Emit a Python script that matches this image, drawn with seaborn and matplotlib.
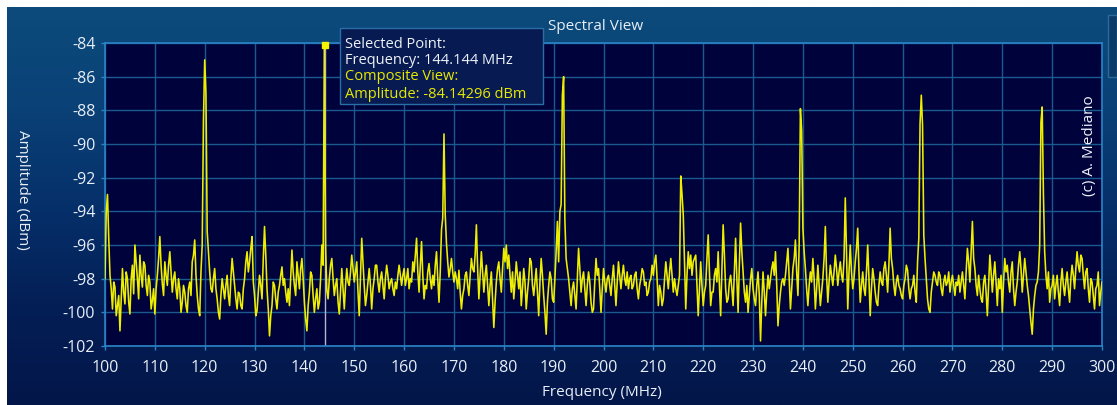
import numpy as np
import pandas as pd
import matplotlib
matplotlib.use("Agg")
import matplotlib.pyplot as plt
from matplotlib.colors import LinearSegmentedColormap
from matplotlib.patches import Rectangle
import seaborn as sns

# ---------------- data (dBm, sampled every 0.25 MHz) ----------------
freq_step_mhz = 0.25
amp_100 = [-98.0, -94.0, -93.0, -95.6, -97.8, -98.6, -99.8, -98.2, -98.5, -100.2,
           -99.6, -99.0, -101.1, -99.3, -97.4, -98.8, -99.5, -97.6, -98.0, -99.4,
           -100.1, -98.0, -97.2, -98.9, -96.0, -97.0, -98.0, -99.2, -96.6, -97.8,
           -98.5, -97.0, -97.2, -98.4, -99.0, -97.8, -98.2, -99.8, -99.3, -98.6]
amp_110 = [-100.1, -98.6, -97.8, -96.8, -95.5, -97.2, -98.3, -99.0, -97.0, -97.8,
           -98.4, -97.2, -96.4, -97.6, -98.8, -98.0, -97.6, -98.6, -99.2, -98.0,
           -98.6, -100.0, -99.4, -98.4, -98.8, -99.6, -100.0, -98.6, -98.2, -99.0,
           -97.0, -96.6, -95.7, -97.8, -99.0, -99.8, -100.2, -97.6, -96.0, -88.6]
amp_120 = [-85.0, -87.0, -95.2, -96.4, -97.6, -98.6, -98.8, -98.0, -97.4, -98.6,
           -99.2, -100.0, -100.4, -99.0, -98.0, -98.6, -99.2, -98.4, -97.8, -99.0,
           -99.6, -98.0, -96.8, -97.6, -98.4, -99.2, -99.8, -98.8, -98.9, -99.6,
           -99.8, -98.6, -98.0, -97.0, -96.4, -97.6, -97.0, -96.2, -95.5, -98.2]
amp_130 = [-99.0, -100.2, -99.9, -98.8, -97.8, -98.4, -99.2, -96.8, -94.9, -96.6,
           -98.6, -99.8, -101.4, -100.2, -99.6, -98.2, -98.4, -99.2, -99.8, -98.8,
           -98.4, -97.8, -97.3, -98.4, -98.0, -98.8, -99.4, -98.6, -99.6, -98.0,
           -96.3, -97.6, -98.4, -99.0, -97.0, -97.8, -98.6, -97.4, -96.8, -98.0]
amp_140 = [-99.4, -100.4, -101.1, -99.6, -98.8, -97.6, -97.8, -99.0, -100.0, -99.2,
           -98.6, -99.8, -99.4, -98.0, -96.0, -97.2, -84.14, -96.2, -98.7, -99.2,
           -98.0, -97.2, -96.8, -98.0, -99.0, -98.4, -98.0, -99.4, -100.1, -98.8,
           -97.4, -98.6, -99.8, -98.4, -97.4, -98.2, -98.4, -97.6, -96.6, -97.4]
amp_150 = [-98.2, -97.6, -97.0, -98.8, -100.2, -97.8, -95.6, -97.0, -98.4, -99.6,
           -99.0, -98.2, -97.4, -98.4, -99.8, -98.6, -98.0, -97.2, -97.2, -98.2,
           -98.8, -98.0, -97.6, -98.4, -99.2, -98.0, -97.2, -97.8, -98.6, -98.2,
           -98.0, -98.6, -99.0, -98.2, -98.6, -97.8, -97.2, -97.8, -98.4, -97.8]
amp_160 = [-97.4, -98.4, -98.0, -97.4, -98.6, -98.0, -98.2, -97.0, -97.6, -96.6,
           -95.6, -97.6, -98.8, -97.2, -95.8, -97.8, -99.2, -98.4, -98.6, -97.6,
           -97.1, -98.0, -98.6, -97.8, -98.4, -97.2, -96.4, -98.0, -99.4, -97.6,
           -95.1, -94.4, -89.4, -94.2, -95.9, -97.0, -97.9, -97.4, -96.8, -97.6]
amp_170 = [-98.2, -97.6, -98.0, -98.6, -97.5, -98.8, -99.8, -99.0, -98.6, -97.8,
           -97.6, -98.4, -99.0, -97.8, -96.8, -97.4, -97.6, -96.6, -94.8, -97.4,
           -99.2, -97.8, -96.4, -97.6, -98.8, -97.8, -97.2, -98.4, -99.6, -98.4,
           -97.6, -99.2, -100.9, -99.4, -98.2, -97.4, -97.0, -98.0, -98.8, -97.4]
amp_180 = [-96.2, -97.0, -96.0, -97.4, -96.6, -97.8, -98.8, -97.6, -99.2, -98.2,
           -97.0, -97.8, -98.6, -97.6, -99.6, -98.6, -97.4, -98.2, -99.8, -98.8,
           -98.0, -96.8, -97.0, -98.4, -99.0, -98.2, -97.4, -98.8, -100.2, -98.2,
           -96.8, -97.8, -99.0, -100.0, -101.3, -99.4, -98.4, -97.6, -98.0, -99.2]
amp_190 = [-99.4, -98.0, -96.4, -94.6, -97.0, -94.0, -93.6, -87.1, -86.0, -94.5,
           -96.8, -97.4, -98.0, -98.8, -99.6, -98.6, -98.2, -99.0, -99.8, -98.0,
           -96.2, -97.4, -98.8, -98.0, -97.6, -98.6, -99.6, -98.4, -97.6, -98.2,
           -99.4, -100.0, -99.8, -98.2, -96.8, -97.8, -97.4, -98.6, -100.0, -98.6]
amp_200 = [-97.4, -98.2, -98.8, -98.0, -97.8, -98.4, -99.0, -98.0, -97.2, -98.4,
           -99.6, -98.2, -97.0, -97.8, -98.6, -97.8, -97.2, -98.0, -98.4, -97.6,
           -98.6, -98.0, -97.8, -98.6, -98.4, -97.8, -97.6, -98.6, -99.2, -98.4,
           -98.0, -97.4, -97.6, -98.4, -98.2, -99.0, -98.8, -98.2, -98.0, -97.2]
amp_210 = [-97.8, -97.0, -96.6, -98.0, -99.6, -98.4, -98.8, -99.6, -99.2, -98.0,
           -97.0, -97.8, -98.6, -97.6, -96.8, -97.8, -98.8, -98.0, -98.6, -99.0,
           -98.4, -97.8, -91.9, -93.0, -94.2, -97.0, -99.8, -97.8, -96.4, -97.4,
           -96.6, -97.8, -97.0, -96.8, -96.6, -98.4, -100.2, -98.6, -97.0, -98.4]
amp_220 = [-99.6, -98.8, -98.4, -96.8, -95.4, -97.6, -99.6, -98.8, -98.8, -97.8,
           -97.4, -98.2, -96.4, -98.4, -100.2, -97.6, -94.8, -96.6, -98.6, -99.4,
           -99.2, -98.2, -97.8, -98.6, -99.6, -97.6, -95.6, -98.0, -100.0, -97.2,
           -94.7, -96.4, -97.6, -98.8, -99.4, -98.4, -100.0, -99.0, -98.0, -97.4]
amp_230 = [-98.6, -99.2, -99.6, -98.4, -97.6, -99.0, -101.7, -99.4, -97.6, -98.8,
           -100.2, -98.8, -97.8, -98.6, -98.0, -97.4, -97.0, -97.8, -96.4, -98.4,
           -100.8, -99.6, -98.8, -98.2, -98.0, -98.4, -97.8, -97.0, -96.2, -98.0,
           -99.8, -98.6, -97.4, -96.8, -95.7, -97.6, -99.0, -96.0, -87.9, -89.2]
amp_240 = [-95.0, -96.4, -97.4, -98.6, -99.6, -98.4, -97.6, -98.2, -96.8, -98.0,
           -99.8, -98.6, -97.2, -98.4, -99.6, -98.8, -98.0, -96.8, -94.9, -97.8,
           -99.4, -98.2, -97.2, -97.8, -98.4, -97.6, -96.6, -97.4, -98.4, -97.6,
           -97.0, -97.8, -98.2, -96.8, -93.2, -96.4, -99.8, -97.6, -96.0, -97.6]
amp_250 = [-98.6, -98.0, -97.0, -96.2, -95.0, -97.6, -99.4, -98.4, -97.6, -98.6,
           -99.0, -97.6, -96.0, -98.0, -100.2, -98.6, -97.4, -98.0, -98.8, -99.4,
           -99.6, -98.4, -97.6, -98.2, -98.4, -97.4, -97.0, -97.8, -98.8, -97.2,
           -95.0, -96.8, -97.4, -98.4, -99.0, -98.2, -97.8, -98.4, -98.6, -99.0]
amp_260 = [-99.2, -98.4, -98.0, -97.2, -97.5, -98.6, -99.2, -98.6, -98.4, -97.8,
           -98.8, -99.4, -97.0, -95.6, -88.8, -87.1, -88.9, -95.4, -96.8, -98.0,
           -99.2, -99.8, -100.0, -98.8, -98.2, -97.6, -97.8, -98.2, -98.4, -97.6,
           -97.8, -98.6, -99.0, -98.2, -97.8, -98.4, -98.2, -97.6, -98.8, -98.2]
amp_270 = [-97.8, -98.4, -99.0, -98.2, -98.4, -97.8, -98.8, -98.2, -97.6, -98.4,
           -99.2, -97.6, -96.2, -97.0, -98.2, -96.4, -94.6, -96.8, -97.4, -98.4,
           -99.0, -97.8, -98.6, -99.2, -99.4, -98.2, -97.8, -98.8, -100.2, -98.4,
           -96.6, -97.6, -98.8, -97.8, -97.0, -98.2, -99.6, -98.0, -98.6, -97.8]
amp_280 = [-100.0, -98.2, -96.8, -97.6, -97.2, -98.2, -98.8, -97.6, -97.0, -98.6,
           -99.6, -98.8, -98.2, -97.2, -96.4, -97.4, -98.8, -97.8, -96.8, -97.6,
           -98.4, -99.0, -99.8, -100.6, -101.3, -99.8, -99.0, -98.4, -98.2, -97.6,
           -96.0, -88.7, -87.8, -93.0, -96.4, -97.8, -98.6, -97.6, -99.4, -98.6]
amp_290 = [-98.4, -97.8, -99.2, -98.4, -97.8, -98.8, -99.6, -98.2, -97.4, -98.4,
           -99.0, -98.2, -97.6, -98.6, -99.4, -98.0, -97.2, -97.8, -98.6, -97.4,
           -96.4, -97.2, -97.6, -96.6, -96.8, -97.8, -98.6, -97.6, -97.4, -98.6,
           -99.4, -98.0, -98.2, -99.0, -99.8, -98.6, -98.4, -97.6, -99.6, -98.8,
           -98.2]
segment_starts = [100, 110, 120, 130, 140, 150, 160, 170, 180, 190,
                  200, 210, 220, 230, 240, 250, 260, 270, 280, 290]
segments = [amp_100, amp_110, amp_120, amp_130, amp_140, amp_150, amp_160, amp_170,
            amp_180, amp_190, amp_200, amp_210, amp_220, amp_230, amp_240, amp_250,
            amp_260, amp_270, amp_280, amp_290]

selected_freq = 144.144
selected_amp = -84.14296
x_ticks = [100, 110, 120, 130, 140, 150, 160, 170, 180, 190, 200,
           210, 220, 230, 240, 250, 260, 270, 280, 290, 300]
y_ticks = [-84, -86, -88, -90, -92, -94, -96, -98, -100, -102]

freqs, amps = [], []
for start, seg in zip(segment_starts, segments):
    for i, v in enumerate(seg):
        freqs.append(start + i * freq_step_mhz)
        amps.append(v)
df = pd.DataFrame({"Frequency (MHz)": freqs, "Amplitude (dBm)": amps})

# ---------------- figure ----------------
W, H = 1117, 405
plt.rcParams["font.family"] = ["Open Sans", "DejaVu Sans"]
plt.rcParams["axes.unicode_minus"] = False
fig = plt.figure(figsize=(W / 100, H / 100), dpi=100, facecolor="white")


def fx(px):
    return px / W


def fy(py):
    return 1 - py / H


# gradient panel background
bg = fig.add_axes([fx(7), 0, 1 - fx(7), fy(7)])
bg.set_axis_off()
cmap = LinearSegmentedColormap.from_list(
    "panel", ["#0c4b7c", "#0a4176", "#06306a", "#041f56", "#03164a"])
grad = np.linspace(0, 1, 256).reshape(-1, 1)
bg.imshow(grad, aspect="auto", cmap=cmap, extent=[0, 1, 0, 1], origin="upper")
bg.set_xlim(0, 1)
bg.set_ylim(0, 1)

# scrollbar-like thumb at right
fig.patches.append(Rectangle((fx(1108), fy(77)), fx(1117) - fx(1108), fy(15) - fy(77),
                             transform=fig.transFigure, facecolor="#0a3a68",
                             edgecolor="#2b6a9c", linewidth=1.0, zorder=1))

# main axes
left, right, top, bottom = 105, 1102, 43, 346
ax = fig.add_axes([fx(left), fy(bottom), fx(right) - fx(left), fy(top) - fy(bottom)])
ax.set_facecolor("#00023c")

ax.axvline(selected_freq, color="#b4b4d8", linewidth=1.0, zorder=2)
sns.lineplot(data=df, x="Frequency (MHz)", y="Amplitude (dBm)", ax=ax,
             color="#eeee00", linewidth=1.15, estimator=None, sort=True, zorder=3)
ax.plot([selected_freq], [selected_amp], marker="s", markersize=4.2,
        color="#f5f500", markeredgecolor="#f5f500", zorder=5, clip_on=False)

ax.set_xlim(100, 300)
ax.set_ylim(-102, -84)
ax.set_xticks(x_ticks)
ax.set_yticks(y_ticks)
ax.grid(True, color="#1b5a8e", linewidth=1.0)
ax.set_axisbelow(True)
for sp in ax.spines.values():
    sp.set_color("#2a84c6")
    sp.set_linewidth(1.2)
ax.tick_params(axis="both", colors="#2a84c6", labelcolor="#e8eef6",
               labelsize=11.5, length=3, width=1)
ax.tick_params(axis="x", pad=7)
ax.tick_params(axis="y", pad=4)
ax.set_xlabel("")
ax.set_ylabel("")

# labels and titles
fig.text(fx(602), fy(393), "Frequency (MHz)", color="#e8eef6", fontsize=11,
         ha="center", va="center")
fig.text(fx(22), fy(190), "Amplitude (dBm)", color="#e8eef6", fontsize=11,
         ha="center", va="center", rotation=270)
fig.text(fx(596), fy(27), "Spectral View", color="#e8eef6", fontsize=11,
         ha="center", va="center")
fig.text(fx(1090), fy(146), "(c) A. Mediano", color="#f0f4fa", fontsize=11,
         ha="center", va="center", rotation=90)

# tooltip
fig.patches.append(Rectangle((fx(340), fy(104)), fx(543) - fx(340), fy(28) - fy(104),
                             transform=fig.transFigure, facecolor="#071b52",
                             edgecolor="#2a6ea6", linewidth=1.0, zorder=6))
tip_lines = ["Selected Point:", "Frequency: 144.144 MHz",
             "Composite View:", "Amplitude: -84.14296 dBm"]
tip_colors = ["#eef2f8", "#eef2f8", "#e8e800", "#e8e800"]
tip_y = [44, 61, 77, 94]
for txt, c, yy in zip(tip_lines, tip_colors, tip_y):
    fig.text(fx(345), fy(yy), txt, color=c, fontsize=10.5, ha="left", va="center",
             zorder=7)

fig.savefig("out.png", dpi=100, facecolor="white")
